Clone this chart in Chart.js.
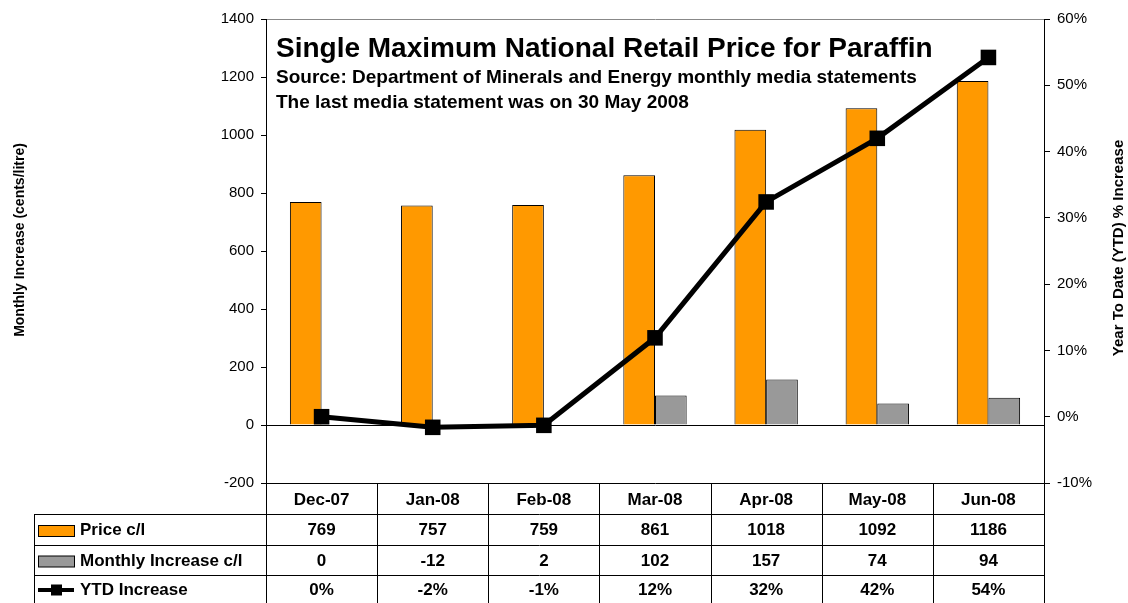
<!DOCTYPE html>
<html><head><meta charset="utf-8">
<script src="https://cdn.jsdelivr.net/npm/chart.js@4/dist/chart.umd.min.js"></script>
<style>html,body{margin:0;padding:0;background:#fff}#wrap{width:1128px;height:603px;position:relative}</style>
</head><body><div id="wrap"><canvas id="c" width="1128" height="603"></canvas></div>
<script>
const categories = ['Dec-07','Jan-08','Feb-08','Mar-08','Apr-08','May-08','Jun-08'];
const priceValues = [769, 757, 759, 861, 1018, 1092, 1186];
const monthlyIncrease = [0, -12, 2, 102, 157, 74, 94];
const ytdIncrease = [0, -1.6, -1.3, 11.9, 32.4, 42.0, 54.2];
const ytdLabels = ['0%', '-2%', '-1%', '12%', '32%', '42%', '54%'];
const seriesNames = ['Price c/l', 'Monthly Increase c/l', 'YTD Increase'];
const titleLines = ['Single Maximum National Retail Price for Paraffin',
  'Source: Department of Minerals and Energy monthly media statements',
  'The last media statement was on 30 May 2008'];
const leftAxisTitle = 'Monthly Increase (cents/litre)';
const rightAxisTitle = 'Year To Date (YTD) % Increase';

const FONT = '"Liberation Sans", Arial, Helvetica, sans-serif';
const ORANGE = '#FF9900';
const GREY = '#999999';

const extras = {
  id: 'extras',
  afterDraw(chart) {
    const ctx = chart.ctx;
    const ca = chart.chartArea;
    const xs = chart.scales.x;
    ctx.save();
    // Titles
    ctx.fillStyle = '#000';
    ctx.textAlign = 'left';
    ctx.textBaseline = 'alphabetic';
    ctx.font = 'bold 28px ' + FONT;
    ctx.fillText(titleLines[0], 276, 57);
    ctx.font = 'bold 19px ' + FONT;
    ctx.fillText(titleLines[1], 276, 83);
    ctx.fillText(titleLines[2], 276, 108);
    // Axis titles (read bottom-to-top)
    ctx.textAlign = 'center';
    ctx.textBaseline = 'middle';
    ctx.save();
    ctx.translate(20, 240);
    ctx.rotate(-Math.PI / 2);
    ctx.font = 'bold 14px ' + FONT;
    ctx.fillText(leftAxisTitle, 0, 0);
    ctx.restore();
    ctx.save();
    ctx.translate(1119, 248);
    ctx.rotate(-Math.PI / 2);
    ctx.font = 'bold 15px ' + FONT;
    ctx.fillText(rightAxisTitle, 0, 0);
    ctx.restore();

    // Data table
    const n = categories.length;
    const cw = (ca.right - ca.left) / n;
    const rowLines = [514, 545, 575];
    const bottom = chart.height;
    const tableLeft = 34;
    ctx.strokeStyle = '#000';
    ctx.lineWidth = 1;
    ctx.beginPath();
    for (let i = 0; i <= n; i++) {
      const x = Math.round(ca.left + i * cw) + 0.5;
      ctx.moveTo(x, ca.bottom);
      ctx.lineTo(x, bottom);
    }
    rowLines.forEach(y => { ctx.moveTo(tableLeft, y + 0.5); ctx.lineTo(ca.right + 1, y + 0.5); });
    ctx.moveTo(tableLeft + 0.5, rowLines[0]);
    ctx.lineTo(tableLeft + 0.5, bottom);
    ctx.stroke();

    const rowCenters = [(rowLines[0] + rowLines[1]) / 2 + 1, (rowLines[1] + rowLines[2]) / 2 + 1, (rowLines[2] + bottom) / 2 + 1];
    // legend keys
    ctx.fillStyle = ORANGE;
    ctx.fillRect(38.5, rowCenters[0] - 5, 36, 11);
    ctx.strokeRect(38.5, rowCenters[0] - 5, 36, 11);
    ctx.fillStyle = GREY;
    ctx.fillRect(38.5, rowCenters[1] - 5, 36, 11);
    ctx.strokeRect(38.5, rowCenters[1] - 5, 36, 11);
    ctx.fillStyle = '#000';
    ctx.fillRect(38, rowCenters[2] - 2, 36, 4);
    ctx.fillRect(51, rowCenters[2] - 5.5, 11, 11);

    ctx.font = 'bold 17px ' + FONT;
    ctx.textBaseline = 'middle';
    ctx.textAlign = 'left';
    seriesNames.forEach((s, r) => ctx.fillText(s, 80, rowCenters[r]));

    ctx.textAlign = 'center';
    for (let i = 0; i < n; i++) {
      const x = xs.getPixelForValue(i);
      ctx.fillText(String(priceValues[i]), x, rowCenters[0]);
      ctx.fillText(String(monthlyIncrease[i]), x, rowCenters[1]);
      ctx.fillText(ytdLabels[i], x, rowCenters[2]);
    }
    ctx.restore();
  }
};

new Chart(document.getElementById('c'), {
  data: {
    labels: categories,
    datasets: [
      { type: 'line', label: seriesNames[2], data: ytdIncrease, yAxisID: 'y1',
        borderColor: '#000', borderWidth: 5, tension: 0,
        pointStyle: 'rect', pointRadius: 11, pointBackgroundColor: '#000', pointBorderColor: '#000', pointBorderWidth: 0, order: 0 },
      { type: 'bar', label: seriesNames[0], data: priceValues, yAxisID: 'y',
        backgroundColor: ORANGE, borderColor: '#000', borderWidth: 1,
        categoryPercentage: 0.57, barPercentage: 1, order: 1 },
      { type: 'bar', label: seriesNames[1], data: monthlyIncrease, yAxisID: 'y',
        backgroundColor: GREY, borderColor: '#000', borderWidth: 1,
        categoryPercentage: 0.57, barPercentage: 1, order: 1 }
    ]
  },
  options: {
    responsive: false, animation: false, devicePixelRatio: 1,
    layout: { padding: { top: 19, left: 0, right: 0, bottom: 0 } },
    plugins: { legend: { display: false }, tooltip: { enabled: false } },
    scales: {
      x: {
        type: 'category', position: 'bottom', offset: true,
        grid: { display: true, drawOnChartArea: false, drawTicks: false },
        border: { display: true, color: '#000', width: 1 },
        ticks: { color: '#000', font: { family: FONT, size: 17, weight: 'bold' }, padding: 7, maxRotation: 0 },
        afterFit(s) { s.height = 120; }
      },
      y: {
        position: 'left', min: -200, max: 1400,
        ticks: { stepSize: 200, color: '#000', font: { family: FONT, size: 15 }, padding: 7, callback: v => String(v) },
        grid: {
          color: c => c.tick && c.tick.value === 0 ? '#000' : (c.tick && c.tick.value === 1400 ? '#888888' : 'rgba(0,0,0,0)'),
          tickColor: '#000', tickLength: 5, lineWidth: 1
        },
        border: { display: true, color: '#000', width: 1 },
        title: { display: false },
        afterFit(s) { s.width = 266; }
      },
      y1: {
        position: 'right', min: -10, max: 60,
        ticks: { stepSize: 10, color: '#000', font: { family: FONT, size: 15 }, padding: 7, callback: v => v + '%' },
        grid: { drawOnChartArea: false, tickColor: '#000', tickLength: 6 },
        border: { display: true, color: '#000', width: 1 },
        afterFit(s) { s.width = 84; }
      }
    }
  },
  plugins: [extras]
});
</script></body></html>
